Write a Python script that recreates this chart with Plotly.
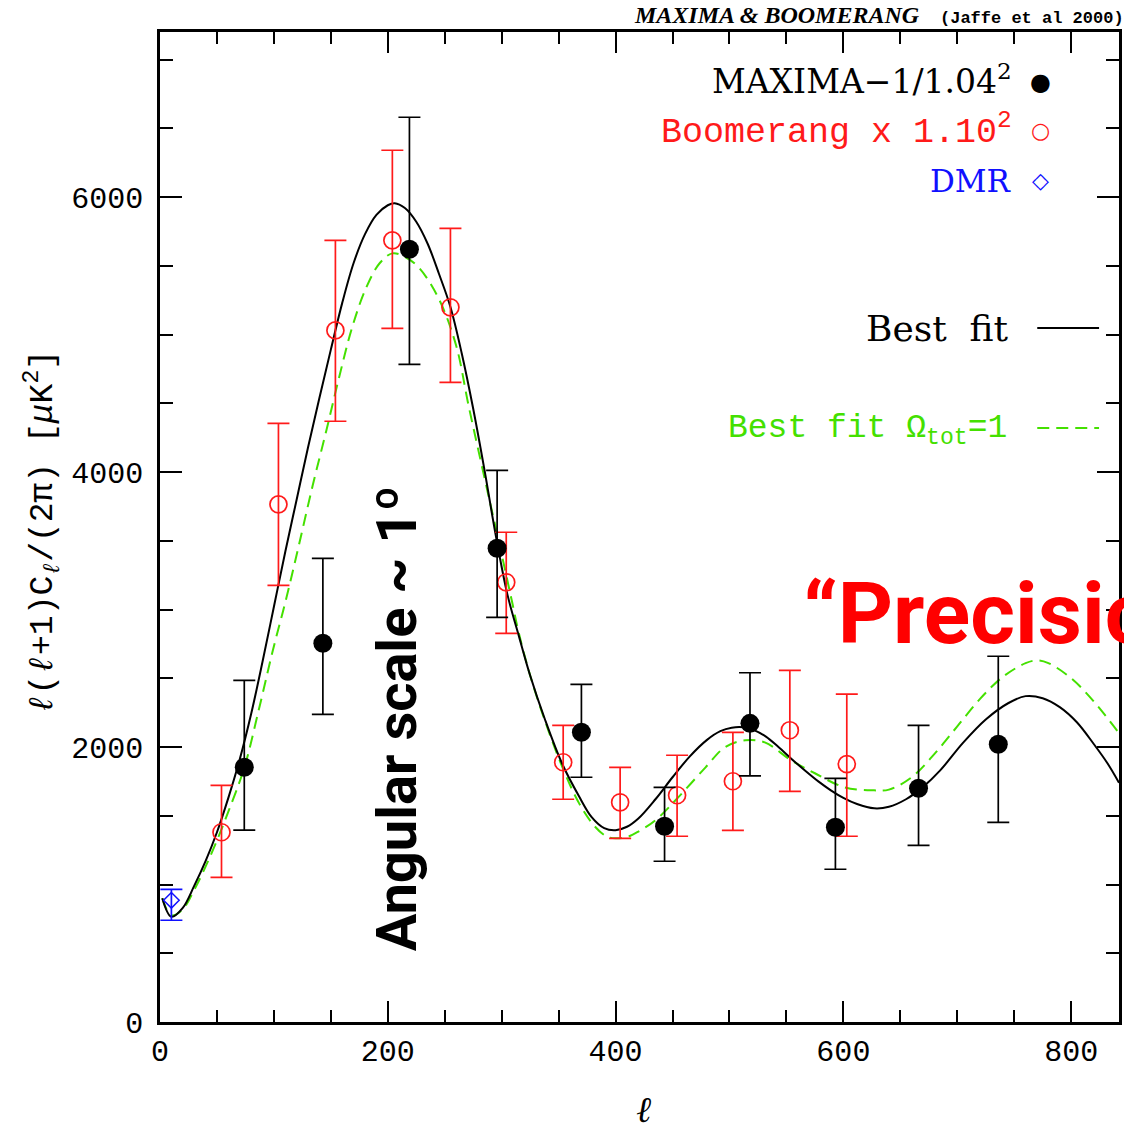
import plotly.graph_objects as go

# ---------------- data ----------------
maxima_l = [74, 143, 219, 296, 370, 443, 518, 593, 666, 736]
maxima_v = [1853, 2754, 5620, 3445, 2107, 1423, 2172, 1416, 1700, 2020]
maxima_hi = [2485, 3372, 6580, 4012, 2456, 1707, 2540, 1772, 2158, 2660]
maxima_lo = [1395, 2238, 4783, 2943, 1780, 1169, 1790, 1111, 1285, 1452]

boom_l = [54, 104, 154, 204, 255, 304, 354, 404, 454, 503, 553, 603]
boom_v = [1380, 3765, 5030, 5685, 5198, 3198, 1889, 1598, 1649, 1751, 2122, 1875]
boom_hi = [1721, 4354, 5685, 6340, 5772, 3562, 2158, 1852, 1940, 2107, 2558, 2384]
boom_lo = [1052, 3176, 4369, 5045, 4652, 2827, 1620, 1336, 1351, 1394, 1678, 1351]

dmr_l = [10]
dmr_v = [885]
dmr_hi = [965]
dmr_lo = [740]

best_l = [2, 10, 20, 30, 40, 50, 60, 70, 80, 90, 100, 110, 120, 130, 140, 150, 160,
          170, 180, 190, 200, 206, 215, 225, 235, 245, 255, 265, 275, 285, 295, 305,
          315, 325, 338, 353, 368, 379, 390, 400, 410, 420, 435, 450, 465, 480, 492,
          502, 512, 522, 532, 543, 555, 566, 578, 589, 600, 612, 627, 640, 655, 670,
          685, 705, 725, 745, 760, 775, 790, 805, 820, 832, 842]
best_v = [900, 765, 830, 990, 1170, 1380, 1630, 1910, 2240, 2620, 3020, 3420, 3800,
          4180, 4540, 4890, 5230, 5520, 5730, 5870, 5940, 5955, 5920, 5820, 5660, 5440,
          5200, 4860, 4460, 4010, 3530, 3110, 2810, 2520, 2200, 1880, 1640, 1490, 1410,
          1395, 1420, 1480, 1620, 1780, 1930, 2050, 2115, 2140, 2143, 2121, 2075, 2000,
          1910, 1831, 1750, 1685, 1630, 1585, 1554, 1565, 1620, 1710, 1830, 2030, 2200,
          2320, 2370, 2355, 2290, 2180, 2020, 1880, 1740]

flat_l = [2, 10, 20, 30, 40, 50, 60, 74, 87, 99, 111, 122, 134, 146, 157, 169, 181,
          193, 204, 216, 228, 245, 260, 271, 286, 298, 309, 315, 325, 338, 353, 368,
          382, 392, 400, 410, 420, 435, 455, 479, 496, 514, 531, 554, 575, 601, 627,
          640, 660, 680, 700, 720, 740, 760, 770, 780, 800, 820, 842]
flat_v = [900, 775, 820, 960, 1130, 1320, 1530, 1850, 2280, 2700, 3085, 3470, 3900,
          4300, 4680, 5060, 5340, 5520, 5590, 5560, 5480, 5256, 4920, 4480, 3918, 3474,
          3060, 2830, 2520, 2190, 1860, 1590, 1420, 1350, 1336, 1345, 1385, 1467, 1634,
          1852, 1998, 2049, 2034, 1904, 1809, 1707, 1685, 1690, 1780, 1950, 2150, 2350,
          2510, 2610, 2630, 2610, 2500, 2330, 2100]

x_range = [0, 842]
y_range = [0, 7200]

RED = "#ff1a1a"
GREEN = "#44e000"
BLUE = "#1010ff"

fig = go.Figure()

fig.add_trace(go.Scatter(x=flat_l, y=flat_v, mode="lines",
                         line=dict(color=GREEN, width=2, dash="12px,7px",
                                   shape="spline", smoothing=1.0)))
fig.add_trace(go.Scatter(x=best_l, y=best_v, mode="lines",
                         line=dict(color="black", width=2, shape="spline", smoothing=1.0)))


def err(v, hi, lo, color):
    return dict(type="data", symmetric=False,
                array=[h - a for a, h in zip(v, hi)],
                arrayminus=[a - l for a, l in zip(v, lo)],
                width=11, thickness=1.7, color=color)


fig.add_trace(go.Scatter(x=boom_l, y=boom_v, mode="markers",
                         marker=dict(symbol="circle-open", size=17, color=RED,
                                     line=dict(width=1.7, color=RED)),
                         error_y=err(boom_v, boom_hi, boom_lo, RED)))
fig.add_trace(go.Scatter(x=maxima_l, y=maxima_v, mode="markers",
                         marker=dict(symbol="circle", size=19, color="black"),
                         error_y=err(maxima_v, maxima_hi, maxima_lo, "black")))
fig.add_trace(go.Scatter(x=dmr_l, y=dmr_v, mode="markers",
                         marker=dict(symbol="diamond-open", size=12, color=BLUE,
                                     line=dict(width=1.5, color=BLUE)),
                         error_y=err(dmr_v, dmr_hi, dmr_lo, BLUE)))

tickfont = dict(family="Liberation Mono", size=30, color="black")

fig.update_layout(
    width=1124, height=1130,
    margin=dict(l=160, r=2, t=32, b=108),
    paper_bgcolor="white", plot_bgcolor="white",
    showlegend=False,
    xaxis=dict(range=x_range, showgrid=False, zeroline=False, showline=True,
               linecolor="black", linewidth=2.5, mirror="ticks",
               ticks="inside", ticklen=21, tickwidth=2, tickcolor="black",
               tick0=0, dtick=200, tickfont=tickfont, ticklabelstandoff=0,
               minor=dict(dtick=50, ticks="inside", ticklen=12, tickwidth=2,
                          tickcolor="black", showgrid=False)),
    yaxis=dict(range=y_range, showgrid=False, zeroline=False, showline=True,
               linecolor="black", linewidth=2.5, mirror="ticks",
               ticks="inside", ticklen=22, tickwidth=2, tickcolor="black",
               tick0=0, dtick=2000, tickfont=tickfont, ticklabelstandoff=8,
               minor=dict(dtick=500, ticks="inside", ticklen=13, tickwidth=2,
                          tickcolor="black", showgrid=False)),
)


def px(x):
    return (x - 160) / 962.0


def py(y):
    return (1022 - y) / 990.0


ann = []
# header
ann.append(dict(x=px(633), y=py(30), xref="paper", yref="paper", xanchor="left", yanchor="bottom",
                text="<b><i>MAXIMA &amp; BOOMERANG</i></b>", showarrow=False,
                font=dict(family="Liberation Serif", size=24, color="black")))
ann.append(dict(x=px(940), y=py(30), xref="paper", yref="paper", xanchor="left", yanchor="bottom",
                text="<b>(Jaffe et al 2000)</b>", showarrow=False,
                font=dict(family="Liberation Mono", size=17, color="black")))
# legend texts
ann.append(dict(x=px(1017), y=py(80), xref="paper", yref="paper", xanchor="right", yanchor="middle",
                text="MAXIMA\u22121/1.04<sup>2</sup>", showarrow=False,
                font=dict(family="DejaVu Serif", size=33, color="black")))
ann.append(dict(x=px(1043), y=py(82), xref="paper", yref="paper", xanchor="center", yanchor="middle",
                text="\u25cf", showarrow=False,
                font=dict(family="DejaVu Sans", size=24, color="black")))
ann.append(dict(x=px(1017), y=py(130), xref="paper", yref="paper", xanchor="right", yanchor="middle",
                text="Boomerang x 1.10<sup>2</sup>", showarrow=False,
                font=dict(family="Liberation Mono", size=35, color=RED)))
ann.append(dict(x=px(1043), y=py(131), xref="paper", yref="paper", xanchor="center", yanchor="middle",
                text="\u25cb", showarrow=False,
                font=dict(family="DejaVu Sans", size=22, color=RED)))
ann.append(dict(x=px(1017), y=py(181), xref="paper", yref="paper", xanchor="right", yanchor="middle",
                text="DMR", showarrow=False,
                font=dict(family="DejaVu Serif", size=31, color=BLUE)))
ann.append(dict(x=px(1043), y=py(181), xref="paper", yref="paper", xanchor="center", yanchor="middle",
                text="\u25c7", showarrow=False,
                font=dict(family="DejaVu Sans", size=22, color=BLUE)))
ann.append(dict(x=px(1014), y=py(328), xref="paper", yref="paper", xanchor="right", yanchor="middle",
                text="Best  fit", showarrow=False,
                font=dict(family="DejaVu Serif", size=36, color="black")))
ann.append(dict(x=px(1012), y=py(430), xref="paper", yref="paper", xanchor="right", yanchor="middle",
                text="Best fit \u03a9<sub>tot</sub>=1", showarrow=False,
                font=dict(family="Liberation Mono", size=33, color=GREEN)))
# axis titles
ann.append(dict(x=px(42), y=py(532), xref="paper", yref="paper", xanchor="center", yanchor="middle",
                textangle=-90,
                text="<i>\u2113</i>(<i>\u2113</i>+1)C<sub><i>\u2113</i></sub>/(2\u03c0) [<i>\u03bc</i>K<sup>2</sup>]",
                showarrow=False,
                font=dict(family="Liberation Mono", size=33, color="black")))
ann.append(dict(x=px(645), y=py(1110), xref="paper", yref="paper", xanchor="center", yanchor="middle",
                text="<i>\u2113</i>", showarrow=False,
                font=dict(family="Liberation Serif", size=36, color="black")))
# overlays
ann.append(dict(x=px(398), y=py(718), xref="paper", yref="paper", xanchor="center", yanchor="middle",
                textangle=-90, text="<b>Angular scale ~ 1\u00ba</b>", showarrow=False,
                font=dict(family="Liberation Sans Narrow, Roboto, sans-serif", size=56, color="black")))
ann.append(dict(x=px(803), y=py(613), xref="paper", yref="paper", xanchor="left", yanchor="middle",
                text="<b>\u201cPrecision</b>", showarrow=False,
                font=dict(family="Liberation Sans Narrow, Roboto, sans-serif", size=86, color="#ff0000")))
fig.update_layout(annotations=ann)

# legend line keys
fig.add_shape(type="line", xref="paper", yref="paper", x0=px(1040), x1=px(1102),
              y0=py(328), y1=py(328), line=dict(color="black", width=2))
fig.add_shape(type="line", xref="paper", yref="paper", x0=px(1040), x1=px(1102),
              y0=py(428), y1=py(428), line=dict(color=GREEN, width=2, dash="12px,7px"))

fig.write_html("out.html")
